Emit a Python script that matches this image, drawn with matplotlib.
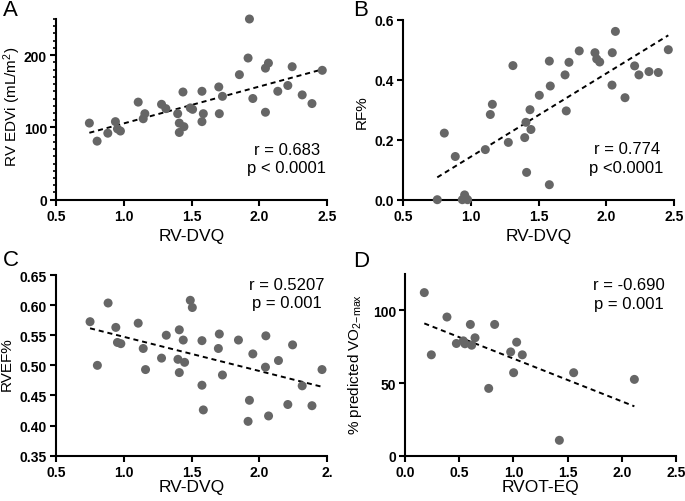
import numpy as np
import matplotlib
matplotlib.use("Agg")
import matplotlib.pyplot as plt
from matplotlib.ticker import MultipleLocator

plt.rcParams['font.family'] = ['Liberation Sans', 'DejaVu Sans']
plt.rcParams['mathtext.fontset'] = 'custom'
plt.rcParams['mathtext.rm'] = 'Liberation Sans'
plt.rcParams['mathtext.it'] = 'Liberation Sans:italic'
plt.rcParams['mathtext.bf'] = 'Liberation Sans:bold'

# ---------------- data ----------------
A_x = [0.746, 0.803, 0.882, 0.938, 0.953, 0.975, 1.106, 1.143, 1.155, 1.278, 1.310, 1.397, 1.409,
       1.409, 1.436, 1.443, 1.490, 1.507, 1.576, 1.576, 1.586, 1.700, 1.704, 1.727, 1.852, 1.916,
       1.926, 1.951, 2.044, 2.044, 2.066, 2.135, 2.209, 2.241, 2.315, 2.387, 2.463]
A_y = [106, 81, 92, 108, 98, 95, 135, 112, 119, 132, 126, 119, 106, 93, 149, 101, 127, 125, 150,
       108, 119, 156, 119, 143, 173, 196, 250, 140, 121, 182, 189, 150, 158, 184, 145, 133, 179]

B_x = [0.751, 0.803, 0.884, 0.936, 0.953, 0.960, 0.975, 1.106, 1.143, 1.158, 1.276, 1.310, 1.397,
       1.406, 1.411, 1.436, 1.443, 1.505, 1.579, 1.579, 1.586, 1.695, 1.704, 1.724, 1.800, 1.916,
       1.929, 1.951, 2.044, 2.042, 2.067, 2.138, 2.209, 2.241, 2.315, 2.384, 2.458]
B_y = [0.0, 0.222, 0.144, 0.0, 0.016, 0.006, 0.0, 0.167, 0.284, 0.318, 0.191, 0.447, 0.207, 0.258,
       0.091, 0.300, 0.234, 0.348, 0.462, 0.050, 0.379, 0.416, 0.296, 0.458, 0.496, 0.490, 0.469,
       0.459, 0.490, 0.382, 0.561, 0.340, 0.446, 0.416, 0.427, 0.424, 0.500]

C_x = [0.751, 0.805, 0.884, 0.941, 0.953, 0.978, 1.106, 1.143, 1.160, 1.278, 1.313, 1.399, 1.409,
       1.409, 1.438, 1.448, 1.490, 1.505, 1.576, 1.576, 1.586, 1.697, 1.704, 1.727, 1.845, 1.916,
       1.926, 1.951, 2.044, 2.047, 2.067, 2.140, 2.209, 2.244, 2.315, 2.387, 2.461]
C_y = [0.5725, 0.500, 0.6035, 0.563, 0.538, 0.536, 0.570, 0.528, 0.493, 0.512, 0.550, 0.510, 0.559,
       0.488, 0.542, 0.505, 0.608, 0.596, 0.541, 0.467, 0.426, 0.528, 0.552, 0.484, 0.542, 0.407,
       0.442, 0.519, 0.497, 0.549, 0.416, 0.508, 0.435, 0.534, 0.466, 0.433, 0.493]

D_x = [0.178, 0.243, 0.387, 0.474, 0.538, 0.553, 0.603, 0.615, 0.646, 0.772, 0.827, 0.975, 1.002,
       1.030, 1.082, 1.424, 1.556, 2.116]
D_y = [112.2, 69.4, 95.4, 77.2, 79.0, 77.0, 90.3, 76.0, 81.1, 46.3, 90.3, 71.4, 57.1, 78.1, 69.4,
       10.6, 57.1, 52.5]

panel_letters = ["A", "B", "C", "D"]
x_labels = ["RV-DVQ", "RV-DVQ", "RV-DVQ", "RVOT-EQ"]
y_labels = ["RV EDVi (mL/m$^2$)", "RF%", "RVEF%", "% predicted VO$_{2\\mathrm{-max}}$"]
stats = ["r = 0.683\np < 0.0001", "r = 0.774\np <0.0001", "r = 0.5207\np = 0.001", "r = -0.690\np = 0.001"]

A_xticks = [0.5, 1.0, 1.5, 2.0, 2.5]
A_xticklabels = ["0.5", "1.0", "1.5", "2.0", "2.5"]
C_xticklabels = ["0.5", "1.0", "1.5", "2.0", "2."]
D_xticks = [0.0, 0.5, 1.0, 1.5, 2.0, 2.5]
D_xticklabels = ["0.0", "0.5", "1.0", "1.5", "2.0", "2.5"]
A_yticks = [0, 100, 200]
B_yticks = [0.0, 0.2, 0.4, 0.6]
C_yticks = [0.35, 0.40, 0.45, 0.50, 0.55, 0.60, 0.65]
D_yticks = [0, 50, 100]

# ---------------- figure ----------------
W, H = 685, 502
fig = plt.figure(figsize=(W / 100, H / 100), dpi=100)

def rect(left, right, top, bottom):
    return [left / W, (H - bottom) / H, (right - left) / W, (bottom - top) / H]

axA = fig.add_axes(rect(56, 327.3, 20, 200.7))
axB = fig.add_axes(rect(403.3, 674, 20.7, 200.7))
axC = fig.add_axes(rect(56, 327.3, 276, 456.7))
axD = fig.add_axes(rect(405, 676, 275, 456.7))
axes = [axA, axB, axC, axD]

dot_color = '#666666'

for ax, xs, ys in zip(axes, [A_x, B_x, C_x, D_x], [A_y, B_y, C_y, D_y]):
    ax.scatter(xs, ys, s=42, color=dot_color, edgecolors='none', zorder=3, clip_on=False)
    xs_a = np.array(xs); ys_a = np.array(ys)
    k, b = np.polyfit(xs_a, ys_a, 1)
    xl = np.array([xs_a.min(), xs_a.max()])
    ax.plot(xl, k * xl + b, color='black', lw=1.4, dashes=(2.6, 2.0), zorder=2)
    for s in ['top', 'right']:
        ax.spines[s].set_visible(False)
    for s in ['left', 'bottom']:
        ax.spines[s].set_linewidth(1.5)
    ax.tick_params(axis='both', which='major', direction='out', length=4.5, width=1.5,
                   labelsize=10, pad=2, colors='black')
    ax.tick_params(axis='both', which='minor', direction='out', length=2.5, width=1.2)

axA.set_xlim(0.5, 2.5); axA.set_ylim(0, 250)
axA.set_xticks(A_xticks, A_xticklabels)
axA.set_yticks(A_yticks, [str(v) for v in A_yticks])
axA.yaxis.set_minor_locator(MultipleLocator(10))

axB.set_xlim(0.5, 2.5); axB.set_ylim(0, 0.6)
axB.set_xticks(A_xticks, A_xticklabels)
axB.set_yticks(B_yticks, [f"{v:.1f}" for v in B_yticks])

axC.set_xlim(0.5, 2.5); axC.set_ylim(0.35, 0.65)
axC.set_xticks(A_xticks, C_xticklabels)
axC.set_yticks(C_yticks, [f"{v:.2f}" for v in C_yticks])

axD.set_xlim(0.0, 2.5); axD.set_ylim(0, 125)
axD.set_xticks(D_xticks, D_xticklabels)
axD.set_yticks(D_yticks, [str(v) for v in D_yticks])

xlab_y = [-0.2, -0.2, -0.172, -0.168]
ylab_x = [-0.162, -0.154, -0.182, -0.185]
ylab_y = [0.517, 0.49, 0.51, 0.51]
stat_pos = [(0.850, 0.228), (0.825, 0.232), (0.850, 0.897), (0.827, 0.89)]
for i, ax in enumerate(axes):
    ax.set_xlabel(x_labels[i], fontsize=12.5)
    ax.xaxis.set_label_coords(0.5, xlab_y[i])
    ax.xaxis.label.set_va('center')
    ax.set_ylabel(y_labels[i], fontsize=11)
    ax.yaxis.set_label_coords(ylab_x[i], ylab_y[i])
    ax.yaxis.label.set_va('center')
    ax.text(stat_pos[i][0], stat_pos[i][1], stats[i], transform=ax.transAxes,
            ha='center', va='center', fontsize=12,
            linespacing=1.3, multialignment='center')

letter_pos = [(3, 0), (353, 0), (3, 250), (353, 251)]
for L, (px, py) in zip(panel_letters, letter_pos):
    fig.text(px / W, 1 - py / H, L, fontsize=16, ha='left', va='top')

# make tick labels bold (after the ticks exist)
fig.canvas.draw()
for ax in axes:
    for t in ax.xaxis.get_major_ticks() + ax.yaxis.get_major_ticks():
        t.label1.set_fontweight('bold')
        t.label1.set_fontsize(10)

fig.savefig("out.png", dpi=100)
